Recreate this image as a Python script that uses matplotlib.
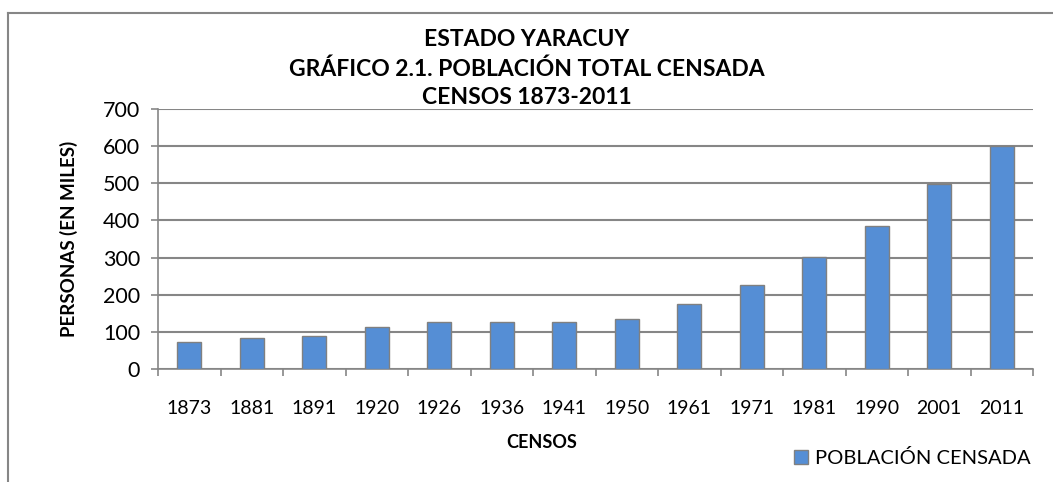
import matplotlib
matplotlib.use("Agg")
import matplotlib.pyplot as plt
from matplotlib.lines import Line2D
import numpy as np


# Census years and population (thousands)
censos = ["1873", "1881", "1891", "1920", "1926", "1936", "1941",
          "1950", "1961", "1971", "1981", "1990", "2001", "2011"]
poblacion = [72, 83, 88, 112, 127, 127, 127, 135, 176, 225, 301, 385, 499, 600]
yticks = [0, 100, 200, 300, 400, 500, 600, 700]

titulo = ["ESTADO YARACUY", "GRÁFICO 2.1. POBLACIÓN TOTAL CENSADA", "CENSOS 1873-2011"]

plt.rcParams['font.family'] = ['Lato', 'DejaVu Sans']
gris = "#868686"

fig = plt.figure(figsize=(10.53, 4.82), dpi=100)
ax = fig.add_axes([158 / 1053, 113 / 482, 875 / 1053, 260 / 482])

x = np.arange(len(censos))
ax.bar(x, poblacion, width=0.39, color="#558ED5", edgecolor="#808080", linewidth=1.0,
       label="POBLACIÓN CENSADA", zorder=3)

ax.set_xlim(-0.5, len(censos) - 0.5)
ax.set_ylim(0, 700)
ax.set_yticks(yticks)
ax.set_yticklabels([str(v) for v in yticks], fontsize=15.5)
ax.set_xticks(x)
ax.set_xticklabels(censos, fontsize=14)
ax.set_xticks(np.arange(-0.5, len(censos)), minor=True)
ax.tick_params(axis="x", which="major", length=0, pad=22)
ax.tick_params(axis="x", which="minor", length=5, color=gris, width=1.2)
ax.tick_params(axis="y", length=5, color=gris, width=1.2, pad=8)

ax.grid(axis="y", color=gris, linewidth=1.5, zorder=0)
for s in ["top", "right"]:
    ax.spines[s].set_visible(False)
for s in ["left", "bottom"]:
    ax.spines[s].set_color(gris)
    ax.spines[s].set_linewidth(1.2)

ax.set_ylabel("PERSONAS (EN MILES)", fontsize=13.5, fontweight="bold", labelpad=18)

for texto, ypix in zip(titulo, [40, 69, 97]):
    fig.text(0.5, 1 - ypix / 482, texto, ha="center", va="center", fontsize=16.5,
             fontweight="bold")
fig.text(542 / 1053, 1 - 442 / 482, "CENSOS", ha="center", va="center",
         fontsize=13, fontweight="bold")

ax.legend(loc="center left", bbox_to_anchor=(794 / 1053, 1 - 458 / 482),
          bbox_transform=fig.transFigure, frameon=False,
          prop={"size": 14.5}, handlelength=0.7, handleheight=0.7,
          handletextpad=0.35, borderpad=0, borderaxespad=0)

# outer chart frame (left and top edges visible)
fig.add_artist(Line2D([8 / 1053, 8 / 1053], [-0.1, 1 - 13 / 482], color=gris, lw=1.5,
                      transform=fig.transFigure))
fig.add_artist(Line2D([8 / 1053, 1.1], [1 - 13 / 482, 1 - 13 / 482], color=gris, lw=1.5,
                      transform=fig.transFigure))

fig.savefig("out.png", dpi=100)
